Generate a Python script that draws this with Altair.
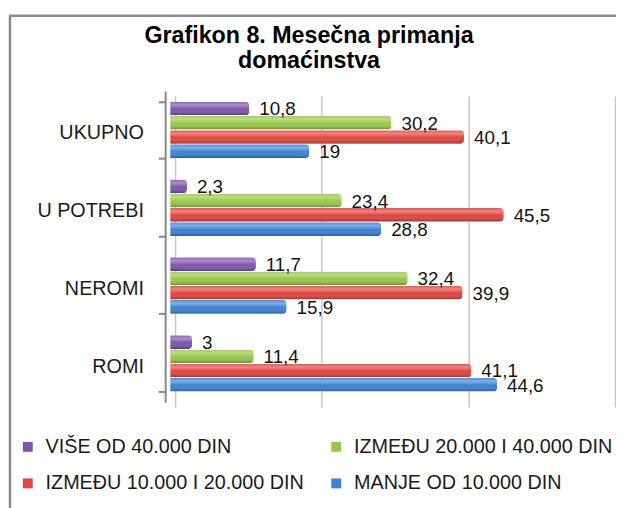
import altair as alt
import pandas as pd

categories = ["UKUPNO", "U POTREBI", "NEROMI", "ROMI"]
series = ["VIŠE OD 40.000 DIN", "IZMEĐU 20.000 I 40.000 DIN",
          "IZMEĐU 10.000 I 20.000 DIN", "MANJE OD 10.000 DIN"]
colors = ["#7c55aa", "#99c747", "#e0453f", "#3d82d4"]

vise_40000 = [10.8, 2.3, 11.7, 3]
izmedju_20_40 = [30.2, 23.4, 32.4, 11.4]
izmedju_10_20 = [40.1, 45.5, 39.9, 41.1]
manje_10000 = [19, 28.8, 15.9, 44.6]

rows = []
for s, vals in zip(series, [vise_40000, izmedju_20_40, izmedju_10_20, manje_10000]):
    for c, v in zip(categories, vals):
        rows.append({"kategorija": c, "serija": s, "vrednost": v,
                     "oznaka": f"{v:g}".replace(".", ",")})
df = pd.DataFrame(rows)

# legend fills column by column: order entries so rows read as in the reference
legend_order = [series[0], series[2], series[1], series[3]]
legend_colors = [colors[0], colors[2], colors[1], colors[3]]

FONT = "Liberation Sans, Arial, sans-serif"

x_enc = alt.X("vrednost:Q",
              scale=alt.Scale(domain=[0, 60], nice=False),
              axis=alt.Axis(values=[0, 20, 40, 60], labels=False, ticks=False,
                            domain=False, grid=True, gridColor="#c6c6c6",
                            gridWidth=1.5, title=None, translate=5.5))
y_enc = alt.Y("kategorija:N", sort=categories,
              scale=alt.Scale(paddingInner=0.276, paddingOuter=0.138),
              axis=alt.Axis(title=None, labelFont=FONT, labelFontSize=20,
                            labelColor="#1a1a1a", domainColor="#888888",
                            domainWidth=2, tickColor="#888888", tickWidth=2,
                            tickSize=7, tickBand="extent", tickOffset=4,
                            labelOffset=3, labelPadding=15,
                            offset=5, grid=False))
yoff_enc = alt.YOffset("serija:N", sort=series,
                       scale=alt.Scale(paddingInner=0.04))

base = alt.Chart(df)

bars = base.mark_bar(cornerRadiusEnd=4).encode(
    x=x_enc, y=y_enc, yOffset=yoff_enc,
    color=alt.Color("serija:N",
                    scale=alt.Scale(domain=legend_order, range=legend_colors),
                    legend=alt.Legend(title=None, orient="none", legendX=-154,
                                      legendY=350, columns=2, columnPadding=22,
                                      rowPadding=17, symbolType="square",
                                      symbolSize=100, symbolStrokeWidth=0,
                                      labelFont=FONT, labelFontSize=20,
                                      labelColor="#1a1a1a", labelOffset=8,
                                      labelLimit=400)),
)

shine = base.mark_bar(
    cornerRadiusEnd=4,
    fill=alt.LinearGradient(
        gradient="linear", x1=0, y1=0, x2=0, y2=1,
        stops=[
            alt.GradientStop(offset=0, color="rgba(255,255,255,0.10)"),
            alt.GradientStop(offset=0.25, color="rgba(255,255,255,0.35)"),
            alt.GradientStop(offset=0.55, color="rgba(255,255,255,0.0)"),
            alt.GradientStop(offset=1, color="rgba(0,0,0,0.32)"),
        ]),
).encode(x=x_enc, y=y_enc, yOffset=yoff_enc)

labels = base.mark_text(align="left", baseline="middle", dx=10, dy=1,
                        font=FONT, fontSize=19, color="#111111").encode(
    x=x_enc, y=y_enc, yOffset=yoff_enc, text="oznaka:N")

frame_df = pd.DataFrame({"a": [0]})
frame_left = alt.Chart(frame_df).mark_rule(color="#8a8a8a", strokeWidth=2.5).encode(
    x=alt.value(-162), y=alt.value(-76), y2=alt.value(430))
frame_top = alt.Chart(frame_df).mark_rule(color="#8a8a8a", strokeWidth=2.5).encode(
    x=alt.value(-163), x2=alt.value(460), y=alt.value(-76))

chart = alt.layer(bars, shine, labels, frame_left, frame_top).properties(
    width=445, height=315,
    autosize=alt.AutoSizeParams(type="none"),
    padding={"left": 164, "top": 81, "right": 6, "bottom": 104},
    title=alt.TitleParams(["Grafikon 8. Mesečna primanja", "domaćinstva"],
                          font=FONT, fontSize=23.5, fontWeight="bold",
                          color="#000000", anchor="middle", dx=-82,
                          lineHeight=26, offset=-59),
).configure_view(stroke=None)

chart.save("out.html", embed_options={"renderer": "svg", "actions": False})
